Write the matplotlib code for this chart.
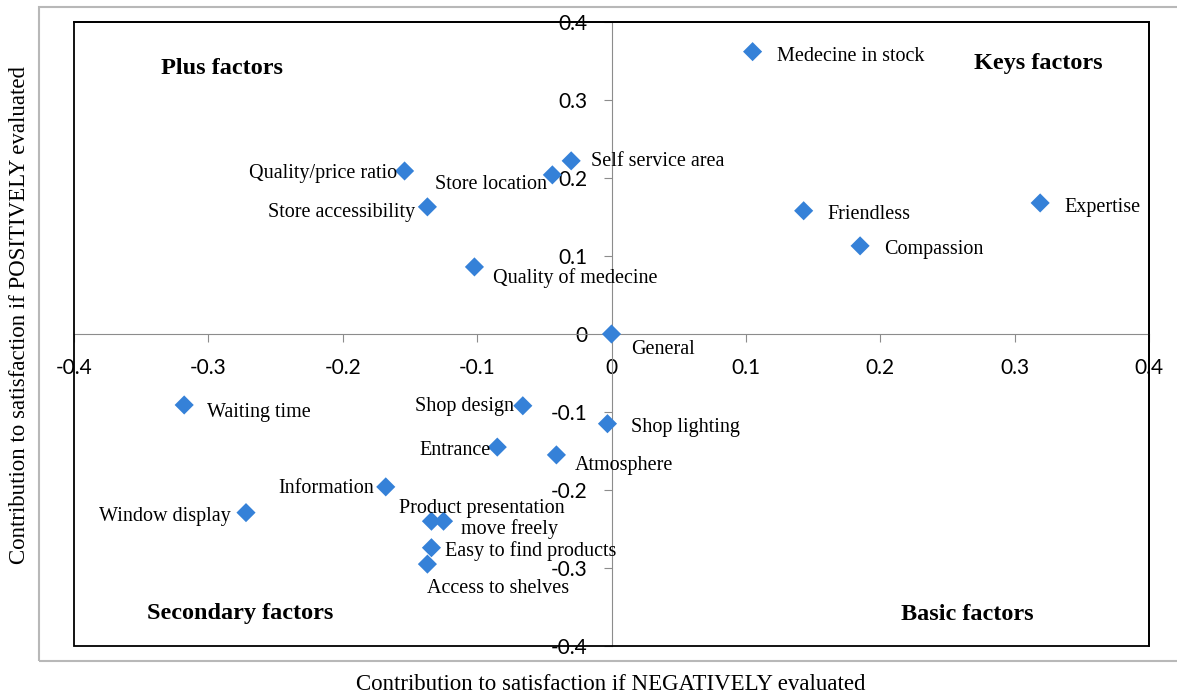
import matplotlib.pyplot as plt
from matplotlib.patches import Rectangle

# factor names and their coordinates (negative / positive contribution)
factors = ['Medecine in stock', 'Self service area', 'Store location', 'Quality/price ratio',
           'Store accessibility', 'Quality of medecine', 'Friendless', 'Compassion', 'Expertise',
           'General', 'Waiting time', 'Window display', 'Information', 'Shop design',
           'Shop lighting', 'Entrance', 'Atmosphere', 'Product presentation', 'move freely',
           'Easy to find products', 'Access to shelves']
neg_contrib = [0.105, -0.030, -0.044, -0.154, -0.137, -0.102, 0.143, 0.185, 0.319,
               0.0, -0.318, -0.272, -0.168, -0.066, -0.003, -0.085, -0.041, -0.134, -0.125,
               -0.134, -0.137]
pos_contrib = [0.362, 0.222, 0.204, 0.209, 0.163, 0.086, 0.158, 0.113, 0.168,
               0.0, -0.091, -0.229, -0.196, -0.092, -0.115, -0.145, -0.155, -0.240, -0.240,
               -0.274, -0.295]

ticks = [-0.4, -0.3, -0.2, -0.1, 0, 0.1, 0.2, 0.3, 0.4]
tick_labels = ['-0.4', '-0.3', '-0.2', '-0.1', '0', '0.1', '0.2', '0.3', '0.4']

# label offsets in pixels (dx, dy, ha)
offsets = {
    'Medecine in stock': (24, -2, 'left'),
    'Self service area': (20, 2, 'left'),
    'Store location': (-5, -7, 'right'),
    'Quality/price ratio': (-7, 0, 'right'),
    'Store accessibility': (-12, -3, 'right'),
    'Quality of medecine': (19, -8, 'left'),
    'Friendless': (24, -1, 'left'),
    'Compassion': (24, -1, 'left'),
    'Expertise': (24, -2, 'left'),
    'General': (20, -12, 'left'),
    'Waiting time': (23, -5, 'left'),
    'Window display': (-15, -1, 'right'),
    'Information': (-12, 1, 'right'),
    'Shop design': (-9, 2, 'right'),
    'Shop lighting': (24, -1, 'left'),
    'Entrance': (-7, 0, 'right'),
    'Atmosphere': (18, -8, 'left'),
    'Product presentation': (-32, 16, 'left'),
    'move freely': (17, -5, 'left'),
    'Easy to find products': (14, 0, 'left'),
    'Access to shelves': (0, -21, 'left'),
}

serif = 'Liberation Serif'
px = 72 / 100.0  # pixel -> points
shift = -3  # text sits a bit lower than matplotlib's "center"

fig = plt.figure(figsize=(11.77, 6.95), dpi=100)
fig.patches.append(Rectangle((39 / 1177, 1 - 661 / 695), 1.0, (661 - 7) / 695,
                             transform=fig.transFigure, fill=False,
                             edgecolor='#b8b8b8', lw=1.5, zorder=0))

ax = fig.add_axes([74 / 1177, 1 - 646 / 695, (1149 - 74) / 1177, (646 - 22) / 695])

ax.scatter(neg_contrib, pos_contrib, marker='D', s=95, color='#3581D8', zorder=3,
           edgecolors='none', clip_on=False)

for name, x, y in zip(factors, neg_contrib, pos_contrib):
    dx, dy, ha = offsets[name]
    ax.annotate(name, (x, y), xytext=(dx * px, (dy + shift) * px), textcoords='offset points',
                ha=ha, va='center', fontsize=14.5, family=serif, zorder=4)

ax.set_xlim(-0.4, 0.4)
ax.set_ylim(-0.4, 0.4)

ax.spines['left'].set_position(('data', 0))
ax.spines['bottom'].set_position(('data', 0))
ax.spines['left'].set_color('#8c8c8c')
ax.spines['bottom'].set_color('#8c8c8c')
for s in ['top', 'right']:
    ax.spines[s].set_color('black')
    ax.spines[s].set_linewidth(1.3)
ax.add_patch(Rectangle((0, 0), 1, 1, transform=ax.transAxes, fill=False,
                       edgecolor='black', lw=1.3, clip_on=False, zorder=5))

ax.set_xticks(ticks)
ax.set_xticklabels(tick_labels)
ax.set_yticks(ticks)
ax.set_yticklabels(tick_labels)
ax.tick_params(axis='both', direction='out', length=6, color='#8c8c8c',
               labelsize=15, pad=11)
for lab in ax.get_xticklabels() + ax.get_yticklabels():
    lab.set_family('Lato')

quad = [('Plus factors', -0.290, 0.340), ('Keys factors', 0.318, 0.347),
        ('Secondary factors', -0.276, -0.358), ('Basic factors', 0.265, -0.359)]
for txt, qx, qy in quad:
    ax.text(qx, qy, txt, ha='center', va='center', fontsize=17.5, fontweight='bold',
            family=serif)

fig.text(611 / 1177, 1 - 685 / 695, 'Contribution to satisfaction if NEGATIVELY evaluated',
         ha='center', va='center', fontsize=16.5, family=serif)
fig.text(20 / 1177, 1 - 315 / 695, 'Contribution to satisfaction if POSITIVELY evaluated',
         ha='center', va='center', rotation=90, fontsize=16.5, family=serif)

fig.savefig('out.png', dpi=100)
